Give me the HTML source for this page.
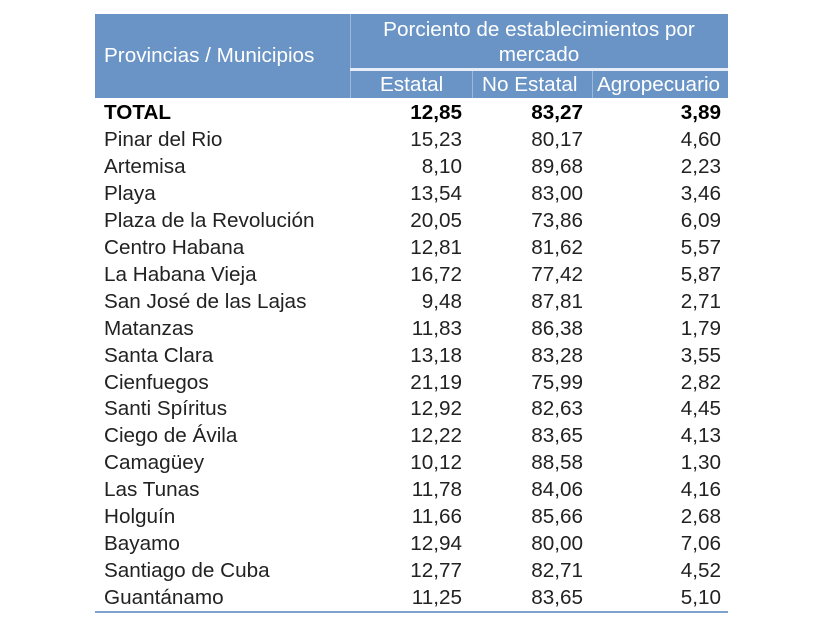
<!DOCTYPE html>
<html><head><meta charset="utf-8"><style>
body{margin:0;width:814px;height:636px;background:#fff;position:relative;font-family:"Liberation Sans",sans-serif;overflow:hidden}
.h{position:absolute;background:#6a94c5}
.t{position:absolute;font-size:20.7px;color:#fff;white-space:nowrap}
.r{position:absolute;left:0;width:814px;height:27px;font-size:20.7px;color:#222}
.r span{position:absolute;top:2px;white-space:nowrap}
.n{left:104px}.a{right:352px}.b{right:231px}.c{right:93px}
.bold{font-weight:bold;color:#000}
</style></head><body>
<div class="h" style="left:95px;top:14px;width:633px;height:84px"></div>
<div style="position:absolute;left:350px;top:14px;width:1px;height:84px;background:#9db8da"></div>
<div style="position:absolute;left:350px;top:68px;width:378px;height:3px;background:#e8eef7"></div>
<div style="position:absolute;left:472px;top:71px;width:1px;height:27px;background:#9db8da"></div>
<div style="position:absolute;left:592px;top:71px;width:1px;height:27px;background:#9db8da"></div>
<div class="t" style="left:104px;top:44px">Provincias / Municipios</div>
<div class="t" style="left:350px;width:378px;text-align:center;top:17px;line-height:25px;white-space:normal">Porciento de establecimientos por<br>mercado</div>
<div class="t" style="left:380px;top:73px">Estatal</div>
<div class="t" style="left:482px;top:73px">No Estatal</div>
<div class="t" style="left:597px;top:73px">Agropecuario</div>
<div id="rows"></div>
<div style="position:absolute;left:95px;top:611px;width:633px;height:2px;background:#7fa3cf"></div>
<script>
var d=[["TOTAL","12,85","83,27","3,89"],["Pinar del Rio","15,23","80,17","4,60"],["Artemisa","8,10","89,68","2,23"],["Playa","13,54","83,00","3,46"],["Plaza de la Revolución","20,05","73,86","6,09"],["Centro Habana","12,81","81,62","5,57"],["La Habana Vieja","16,72","77,42","5,87"],["San José de las Lajas","9,48","87,81","2,71"],["Matanzas","11,83","86,38","1,79"],["Santa Clara","13,18","83,28","3,55"],["Cienfuegos","21,19","75,99","2,82"],["Santi Spíritus","12,92","82,63","4,45"],["Ciego de Ávila","12,22","83,65","4,13"],["Camagüey","10,12","88,58","1,30"],["Las Tunas","11,78","84,06","4,16"],["Holguín","11,66","85,66","2,68"],["Bayamo","12,94","80,00","7,06"],["Santiago de Cuba","12,77","82,71","4,52"],["Guantánamo","11,25","83,65","5,10"]];
var h="";d.forEach(function(x,i){h+='<div class="r'+(i==0?' bold':'')+'" style="top:'+(99+i*26.95)+'px"><span class="n">'+x[0]+'</span><span class="a">'+x[1]+'</span><span class="b">'+x[2]+'</span><span class="c">'+x[3]+'</span></div>';});
document.getElementById("rows").innerHTML=h;
</script>
</body></html>
